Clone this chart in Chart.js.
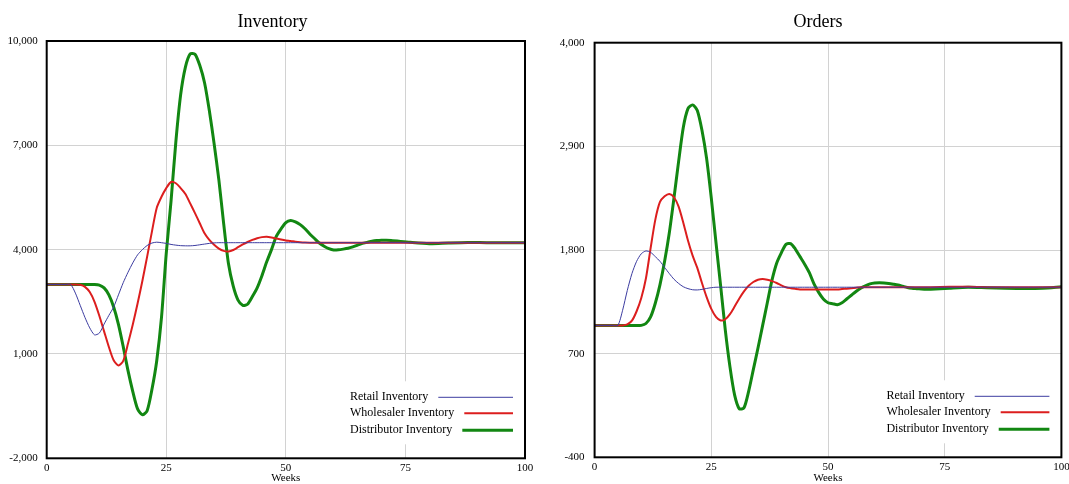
<!DOCTYPE html>
<html>
<head>
<meta charset="utf-8">
<script src="https://cdn.jsdelivr.net/npm/chart.js@4.4.1/dist/chart.umd.min.js"></script>
<style>
  html, body { margin: 0; padding: 0; background: #fff; overflow: hidden; }
  #wrap { position: relative; width: 1069px; height: 484px; overflow: hidden; }
  canvas { position: absolute; top: 0; }
  #inventory { left: 0; }
  #orders { left: 545px; }
</style>
</head>
<body>
<div id="wrap">
  <canvas id="inventory" width="545" height="484"></canvas>
  <canvas id="orders" width="546" height="484"></canvas>
</div>
<script>
// Sample weeks: 0, then every week from 4 to 72, then every 4 weeks to 100.
const WEEKS = [
  0, 4, 5, 6, 7, 8, 9, 10, 11, 12,
  13, 14, 15, 16, 17, 18, 19, 20, 21, 22,
  23, 24, 25, 26, 27, 28, 29, 30, 31, 32,
  33, 34, 35, 36, 37, 38, 39, 40, 41, 42,
  43, 44, 45, 46, 47, 48, 49, 50, 51, 52,
  53, 54, 55, 56, 57, 58, 59, 60, 61, 62,
  63, 64, 65, 66, 67, 68, 69, 70, 71, 72,
  76, 80, 84, 88, 92, 96, 100,
];

const SERIES_LABELS = ["Retail Inventory", "Wholesaler Inventory", "Distributor Inventory"];

const INV_RETAIL = [
  3000, 3000, 3000, 2750, 2400, 2050, 1750, 1550, 1600, 1860,
  2110, 2350, 2700, 3050, 3350, 3620, 3850, 4000, 4120, 4190,
  4215, 4200, 4180, 4150, 4130, 4115, 4110, 4110, 4120, 4140,
  4160, 4180, 4195, 4200, 4200, 4200, 4200, 4200, 4200, 4200,
  4200, 4200, 4200, 4200, 4200, 4200, 4200, 4200, 4200, 4200,
  4200, 4200, 4200, 4200, 4200, 4200, 4200, 4200, 4200, 4200,
  4200, 4200, 4200, 4200, 4200, 4200, 4200, 4200, 4200, 4200,
  4200, 4200, 4200, 4200, 4200, 4200, 4200,
];
const INV_WHOLESALER = [
  3000, 3000, 3000, 3000, 2990, 2930, 2780, 2500, 2100, 1650,
  1200, 820, 670, 800, 1300, 1850, 2450, 3100, 3800, 4520,
  5200, 5520, 5770, 5945, 5910, 5770, 5600, 5330, 5050, 4760,
  4470, 4280, 4140, 4030, 3965, 3950, 3990, 4070, 4150, 4220,
  4280, 4330, 4360, 4370, 4350, 4320, 4290, 4265, 4250, 4230,
  4215, 4205, 4200, 4200, 4200, 4200, 4200, 4200, 4200, 4200,
  4200, 4200, 4200, 4200, 4200, 4200, 4200, 4200, 4200, 4200,
  4200, 4200, 4200, 4200, 4200, 4200, 4200,
];
const INV_DISTRIBUTOR = [
  3000, 3000, 3000, 3000, 3000, 3000, 3000, 3000, 2980, 2900,
  2700, 2350, 1850, 1210, 520, -80, -580, -750, -630, -20,
  800, 2050, 3900, 5400, 7100, 8450, 9250, 9630, 9620, 9300,
  8800, 8000, 7050, 6000, 4750, 3600, 2950, 2550, 2400, 2430,
  2650, 2900, 3250, 3650, 4000, 4380, 4600, 4780, 4840, 4800,
  4720, 4600, 4450, 4320, 4190, 4100, 4030, 3990, 3995, 4015,
  4040, 4080, 4130, 4180, 4210, 4240, 4260, 4270, 4270, 4265,
  4210, 4170, 4190, 4205, 4200, 4200, 4200,
];

const ORD_RETAIL = [
  1000, 1000, 1000, 1160, 1370, 1550, 1680, 1760, 1790, 1775,
  1730, 1680, 1615, 1550, 1490, 1445, 1410, 1390, 1378, 1376,
  1382, 1392, 1400, 1405, 1405, 1405, 1405, 1405, 1405, 1405,
  1405, 1405, 1405, 1405, 1405, 1405, 1405, 1405, 1405, 1405,
  1405, 1405, 1405, 1405, 1405, 1405, 1405, 1405, 1405, 1405,
  1405, 1405, 1405, 1405, 1405, 1405, 1405, 1405, 1405, 1405,
  1405, 1405, 1405, 1405, 1405, 1405, 1405, 1405, 1405, 1405,
  1405, 1405, 1405, 1405, 1405, 1405, 1405,
];
const ORD_WHOLESALER = [
  1000, 1000, 1000, 1000, 1010, 1050, 1150, 1290, 1500, 1820,
  2120, 2310, 2370, 2395, 2360, 2260, 2090, 1900, 1740, 1610,
  1450, 1300, 1175, 1090, 1052, 1065, 1120, 1200, 1285, 1360,
  1420, 1460, 1485, 1493, 1485, 1470, 1450, 1425, 1405, 1395,
  1388, 1382, 1380, 1380, 1380, 1380, 1380, 1380, 1380, 1380,
  1385, 1390, 1395, 1400, 1405, 1405, 1405, 1405, 1405, 1405,
  1405, 1405, 1405, 1405, 1405, 1405, 1405, 1405, 1405, 1405,
  1410, 1410, 1405, 1405, 1405, 1405, 1405,
];
const ORD_DISTRIBUTOR = [
  1000, 1000, 1000, 1000, 1000, 1000, 1000, 1000, 1020, 1090,
  1235, 1430, 1680, 1980, 2350, 2740, 3100, 3300, 3340, 3280,
  3070, 2770, 2350, 1880, 1420, 950, 560, 260, 115, 125,
  300, 530, 760, 1000, 1240, 1480, 1660, 1770, 1860, 1868,
  1810, 1730, 1650, 1560, 1440, 1350, 1280, 1240, 1230, 1220,
  1240, 1280, 1320, 1360, 1395, 1420, 1440, 1450, 1452, 1450,
  1445, 1437, 1428, 1415, 1402, 1394, 1390, 1386, 1383, 1383,
  1395, 1405, 1400, 1395, 1392, 1395, 1410,
];

const INV_TICKS = { min: -2000, max: 10000, step: 3000 };
const ORD_TICKS = { min: -400, max: 4000, step: 1100 };
const WEEK_TICKS = { min: 0, max: 100, step: 25 };

const SERIF = "'Liberation Serif', 'Times New Roman', serif";
const LINE_STYLES = [
  { color: "#3c3ca0", width: 1 },
  { color: "#dc1e1e", width: 2 },
  { color: "#128712", width: 3 },
];

// Vensim-style frame round the plot, the key in its lower right corner
// (text first, line sample after it) and the title centred on the canvas
// rather than on the layout box.
const frameAndKey = {
  id: "frameAndKey",
  afterDatasetsDraw(chart, args, opts) {
    const { ctx, chartArea: a } = chart;
    const textX = a.right - 175;
    const lineEnd = a.right - 12;
    const rows = [a.bottom - 61, a.bottom - 45, a.bottom - 28];
    ctx.save();
    ctx.fillStyle = "#fff";
    ctx.fillRect(textX - 6, rows[0] - 16, lineEnd - textX + 10, rows[2] - rows[0] + 30);
    ctx.font = "12px " + SERIF;
    ctx.textBaseline = "middle";
    chart.data.datasets.forEach((ds, i) => {
      ctx.fillStyle = "#000";
      ctx.fillText(ds.label, textX, rows[i]);
      const w = ctx.measureText(ds.label).width;
      ctx.strokeStyle = ds.borderColor;
      ctx.lineWidth = ds.borderWidth;
      ctx.beginPath();
      ctx.moveTo(textX + w + 10, rows[i]);
      ctx.lineTo(lineEnd, rows[i]);
      ctx.stroke();
    });
    ctx.strokeStyle = "#000";
    ctx.lineWidth = 2;
    ctx.strokeRect(a.left, a.top, a.right - a.left, a.bottom - a.top);

    ctx.fillStyle = "#000";
    ctx.font = "18px " + SERIF;
    ctx.textAlign = "center";
    ctx.fillText(opts.title, chart.width / 2, 22);
    ctx.restore();
  },
};

function makeChart(canvasId, title, seriesList, yTicks, box) {
  const datasets = seriesList.map((values, i) => ({
    label: SERIES_LABELS[i],
    data: WEEKS.map((w, j) => ({ x: w, y: values[j] })),
    borderColor: LINE_STYLES[i].color,
    borderWidth: LINE_STYLES[i].width,
    borderJoinStyle: "round",
    pointRadius: 0,
    tension: 0.25,
    fill: false,
  }));

  return new Chart(document.getElementById(canvasId), {
    type: "line",
    data: { datasets },
    plugins: [frameAndKey],
    options: {
      responsive: false,
      animation: false,
      layout: { padding: { left: 0, right: box.rightPad, top: box.top, bottom: 0 } },
      plugins: {
        legend: { display: false },
        tooltip: { enabled: false },
        title: { display: false },
        frameAndKey: { title },
      },
      scales: {
        x: {
          type: "linear",
          min: WEEK_TICKS.min,
          max: WEEK_TICKS.max,
          ticks: { stepSize: WEEK_TICKS.step, color: "#000", padding: 3, font: { family: SERIF, size: 11 } },
          grid: { color: "#d2d2d2", drawTicks: false },
          border: { display: false },
          title: {
            display: true,
            text: "Weeks",
            color: "#000",
            font: { family: SERIF, size: 11, lineHeight: 1 },
            padding: { top: 0, bottom: 0 },
          },
          afterFit: (s) => { s.height = box.xHeight; },
        },
        y: {
          type: "linear",
          min: yTicks.min,
          max: yTicks.max,
          ticks: {
            stepSize: yTicks.step,
            color: "#000",
            padding: box.yPad,
            font: { family: SERIF, size: 11 },
            callback: (v) => Number(v).toLocaleString("en-US"),
          },
          grid: { color: "#d2d2d2", drawTicks: false },
          border: { display: false },
          afterFit: (s) => { s.width = box.yWidth; },
        },
      },
    },
  });
}

makeChart("inventory", "Inventory", [INV_RETAIL, INV_WHOLESALER, INV_DISTRIBUTOR], INV_TICKS,
  { rightPad: 20, top: 41, xHeight: 25.7, yWidth: 46.7, yPad: 9 });
makeChart("orders", "Orders", [ORD_RETAIL, ORD_WHOLESALER, ORD_DISTRIBUTOR], ORD_TICKS,
  { rightPad: 29.6, top: 42.7, xHeight: 26.7, yWidth: 49.6, yPad: 10 });
</script>
</body>
</html>
